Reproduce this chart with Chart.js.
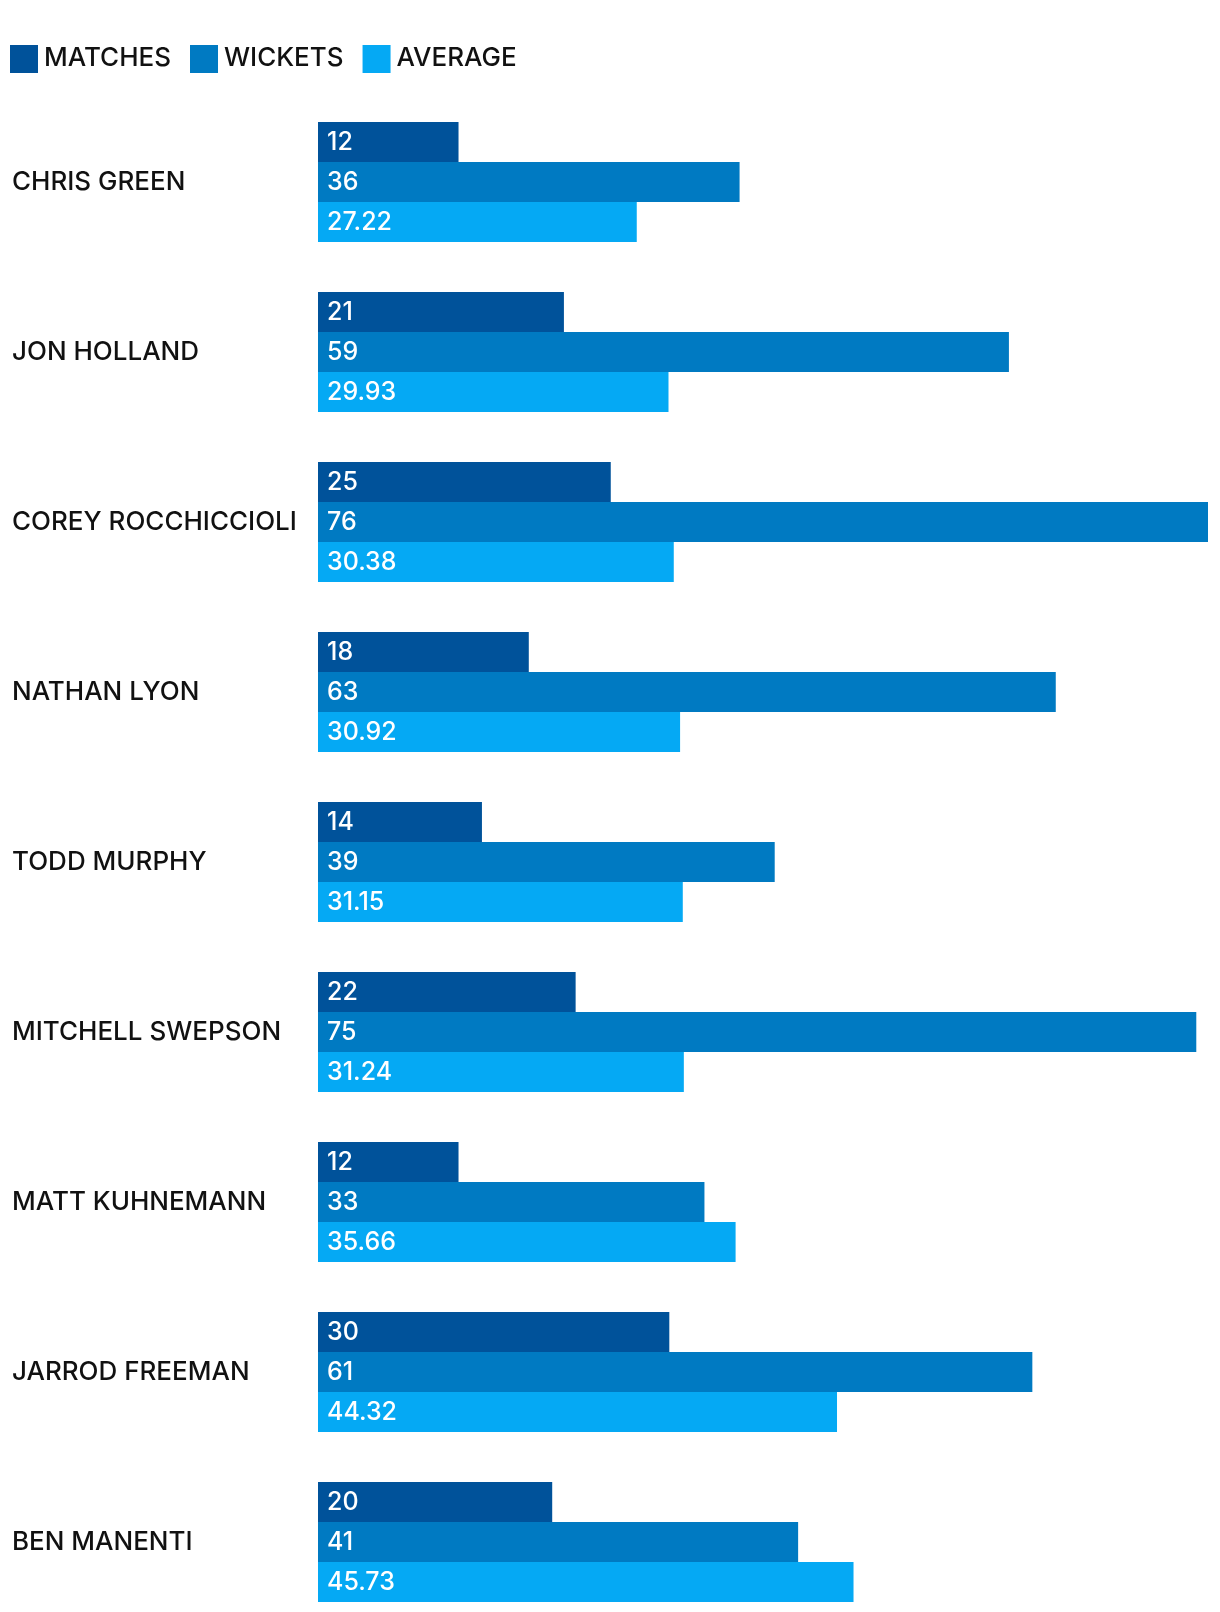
<!DOCTYPE html>
<html lang="en">
<head>
<meta charset="UTF-8">
<title>Spinners</title>
<script src="https://cdn.jsdelivr.net/npm/chart.js"></script>
<style>
  html, body { margin: 0; padding: 0; background: #fff; overflow: hidden; }
  canvas { display: block; }
</style>
</head>
<body>
<canvas id="chart" width="1220" height="1612"></canvas>
<script>
const players = ['CHRIS GREEN', 'JON HOLLAND', 'COREY ROCCHICCIOLI', 'NATHAN LYON', 'TODD MURPHY',
  'MITCHELL SWEPSON', 'MATT KUHNEMANN', 'JARROD FREEMAN', 'BEN MANENTI'];
const matches = [12, 21, 25, 18, 14, 22, 12, 30, 20];
const wickets = [36, 59, 76, 63, 39, 75, 33, 61, 41];
const average = [27.22, 29.93, 30.38, 30.92, 31.15, 31.24, 35.66, 44.32, 45.73];

const FONT = 'Inter, Roboto, sans-serif';

// value labels inside the start of each bar
const barLabels = {
  id: 'barLabels',
  afterDatasetsDraw(chart) {
    const ctx = chart.ctx;
    ctx.save();
    ctx.font = '500 25px ' + FONT;
    ctx.fillStyle = '#fff';
    ctx.textAlign = 'left';
    ctx.textBaseline = 'middle';
    chart.data.datasets.forEach((ds, i) => {
      chart.getDatasetMeta(i).data.forEach((bar, j) => {
        const v = ds.data[j];
        const txt = ds.decimals ? v.toFixed(ds.decimals) : String(v);
        ctx.fillText(txt, bar.base + 9, bar.y);
      });
    });
    ctx.restore();
  }
};

// legend row at the top left
const topLegend = {
  id: 'topLegend',
  afterDraw(chart) {
    const ctx = chart.ctx;
    ctx.save();
    ctx.font = '500 26px ' + FONT;
    ctx.textBaseline = 'middle';
    ctx.textAlign = 'left';
    let x = 10;
    chart.data.datasets.forEach(ds => {
      ctx.fillStyle = ds.backgroundColor;
      ctx.fillRect(x, 45, 28, 28);
      ctx.fillStyle = '#111';
      ctx.fillText(ds.label, x + 34, 58);
      x += 34 + ctx.measureText(ds.label).width + 19;
    });
    ctx.restore();
  }
};

new Chart(document.getElementById('chart'), {
  type: 'bar',
  data: {
    labels: players,
    datasets: [
      { label: 'MATCHES', data: matches, backgroundColor: '#00529A' },
      { label: 'WICKETS', data: wickets, backgroundColor: '#007AC2' },
      { label: 'AVERAGE', data: average, backgroundColor: '#05A9F4', decimals: 2 }
    ]
  },
  options: {
    indexAxis: 'y',
    responsive: false,
    animation: false,
    layout: { padding: { top: 182, bottom: 70, left: 12, right: 12 } },
    datasets: {
      bar: { categoryPercentage: 0.706, barPercentage: 1.0, clip: false, borderWidth: 0 }
    },
    plugins: {
      legend: { display: false },
      tooltip: { enabled: false }
    },
    scales: {
      x: { display: false, min: 0, max: 76 },
      y: {
        offset: false,
        grid: { display: false },
        border: { display: false },
        afterFit: (scale) => { scale.width = 306; },
        ticks: {
          crossAlign: 'far',
          color: '#111',
          font: { family: FONT, size: 26, weight: '500' }
        }
      }
    }
  },
  plugins: [barLabels, topLegend]
});
</script>
</body>
</html>
